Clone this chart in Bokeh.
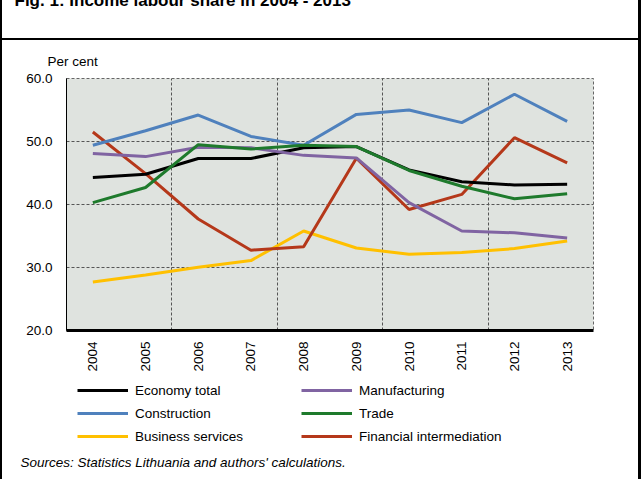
import math
from bokeh.plotting import figure
from bokeh.layouts import column
from bokeh.models import (FixedTicker, Legend, LegendItem, Title,
                          Range1d, PrintfTickFormatter)
from bokeh.embed import file_html
from bokeh.resources import INLINE

years = ["2004", "2005", "2006", "2007", "2008", "2009", "2010", "2011", "2012", "2013"]
economy_total = [44.3, 44.8, 47.3, 47.3, 49.0, 49.2, 45.5, 43.6, 43.1, 43.2]
manufacturing = [48.1, 47.6, 49.1, 49.0, 47.8, 47.4, 40.3, 35.8, 35.5, 34.7]
construction = [49.4, 51.7, 54.2, 50.8, 49.4, 54.3, 55.0, 53.0, 57.5, 53.2]
trade = [40.3, 42.7, 49.5, 48.8, 49.4, 49.2, 45.4, 42.9, 40.9, 41.7]
business_services = [27.7, 28.8, 30.05, 31.1, 35.8, 33.1, 32.1, 32.4, 33.0, 34.2]
financial_intermediation = [51.5, 44.9, 37.7, 32.75, 33.3, 47.35, 39.2, 41.6, 50.6, 46.6]
y_ticks = [20, 30, 40, 50, 60]

FONT = "Liberation Sans, Arial, sans-serif"
FS = "13.5px"
SHIFT = 50  # chart figure starts 50px above the window top (caption is cut off)
CH = 374    # visible height of the chart figure
LH = 479 - CH  # legend strip height

series = [
    ("Economy total", economy_total, "#000000"),
    ("Manufacturing", manufacturing, "#8064a2"),
    ("Construction", construction, "#4f81bd"),
    ("Trade", trade, "#1e7a2c"),
    ("Business services", business_services, "#ffc000"),
    ("Financial intermediation", financial_intermediation, "#b5381a"),
]

x = list(range(len(years)))

def frame_css(rule_y=None):
    parts = ["linear-gradient(#000,#000) 0px 0px / 2px 100% no-repeat",
             "linear-gradient(#000,#000) 638px 0px / 3px 100% no-repeat"]
    if rule_y is not None:
        parts.append(f"linear-gradient(#000,#000) 0px {rule_y}px / 641px 2px no-repeat")
    parts.append("#ffffff")
    return ", ".join(parts)

# ---------------- chart ----------------
p = figure(width=642, height=CH + SHIFT, output_backend="svg", toolbar_location=None,
           x_range=Range1d(-0.5, len(years) - 0.5), y_range=Range1d(20, 60),
           min_border_left=66, min_border_right=49, min_border_top=78 + SHIFT,
           min_border_bottom=CH - 330)
p.title = None
p.background_fill_color = "#dfe3df"
p.border_fill_color = None
p.outline_line_color = "#666666"
p.outline_line_dash = "3 2"
p.outline_line_width = 1
p.styles = {"margin-top": f"-{SHIFT}px", "background": frame_css(38 + SHIFT)}

p.yaxis.ticker = FixedTicker(ticks=y_ticks)
p.yaxis.formatter = PrintfTickFormatter(format="%.1f")
p.xaxis.ticker = FixedTicker(ticks=x)
p.xaxis.major_label_overrides = {i: y for i, y in zip(x, years)}
p.xaxis.major_label_orientation = math.pi / 2
for ax in (p.xaxis[0], p.yaxis[0]):
    ax.major_tick_out = 0
    ax.major_tick_in = 0
    ax.minor_tick_out = 0
    ax.minor_tick_in = 0
    ax.axis_line_color = "black"
    ax.major_label_text_font = FONT
    ax.major_label_text_font_size = FS
    ax.major_label_text_color = "black"
p.yaxis.axis_line_width = 1
p.yaxis.major_label_standoff = 14
p.xaxis.axis_line_width = 3
p.xaxis.major_label_standoff = 11

p.xgrid.ticker = FixedTicker(ticks=[1.5, 3.5, 5.5, 7.5])
p.ygrid.ticker = FixedTicker(ticks=y_ticks)
for g in (p.xgrid, p.ygrid):
    g.grid_line_color = "#555555"
    g.grid_line_dash = "3 2"
    g.grid_line_width = 1

draw_order = ["Business services", "Financial intermediation", "Economy total",
              "Manufacturing", "Construction", "Trade"]
renderers = {}
for name, vals, col in series:
    renderers[name] = p.line(x, vals, line_color=col, line_width=3)
p.renderers = [renderers[n] for n in draw_order]

p.add_layout(Title(text="Per cent", align="left", offset=-19, standoff=20,
                   text_font=FONT, text_font_size=FS, text_font_style="normal",
                   text_color="black"), "above")
p.add_layout(Title(text="Fig. 1: Income labour share in 2004 - 2013", align="left",
                   offset=-52, standoff=64, vertical_align="bottom",
                   text_font=FONT, text_font_size="17px",
                   text_font_style="bold", text_color="black"), "above")

# ---------------- legend strip (frame is aligned with the chart frame: 66..593) ----------------
p2 = figure(width=642, height=LH, output_backend="svg", toolbar_location=None,
            x_range=Range1d(0, 1), y_range=Range1d(0, 1),
            x_axis_location=None, y_axis_location=None,
            min_border_left=66, min_border_right=49, min_border_top=0, min_border_bottom=0)
p2.grid.visible = False
p2.outline_line_color = None
p2.background_fill_color = None
p2.border_fill_color = None
p2.styles = {"background": frame_css()}

# legend proxies: one line each, placed outside the visible range
proxies = {name: p2.line([-10, -9], [-10, -10], line_color=col, line_width=3)
           for name, _, col in series}
legend_order = ["Economy total", "Manufacturing", "Construction", "Trade",
                "Business services", "Financial intermediation"]
lg = Legend(items=[LegendItem(label=n, renderers=[proxies[n]]) for n in legend_order],
            location=(11, 0), orientation="horizontal", ncols=2)
lg.glyph_width = 51
lg.glyph_height = 20
lg.label_height = 20
lg.spacing = 3
lg.padding = 0
lg.margin = 0
lg.label_standoff = 7
lg.label_width = 163
lg.border_line_alpha = 0
lg.background_fill_alpha = 0
lg.label_text_font = FONT
lg.label_text_font_size = FS
lg.label_text_color = "black"
p2.add_layout(lg)

p2.add_layout(Title(text="Sources: Statistics Lithuania and authors' calculations.",
                    align="left", offset=-46, standoff=16, vertical_align="top",
                    text_font=FONT, text_font_size=FS, text_font_style="italic",
                    text_color="black"), "below")

layout = column(p, p2, spacing=0)
open("out.html", "w").write(file_html(layout, INLINE))
